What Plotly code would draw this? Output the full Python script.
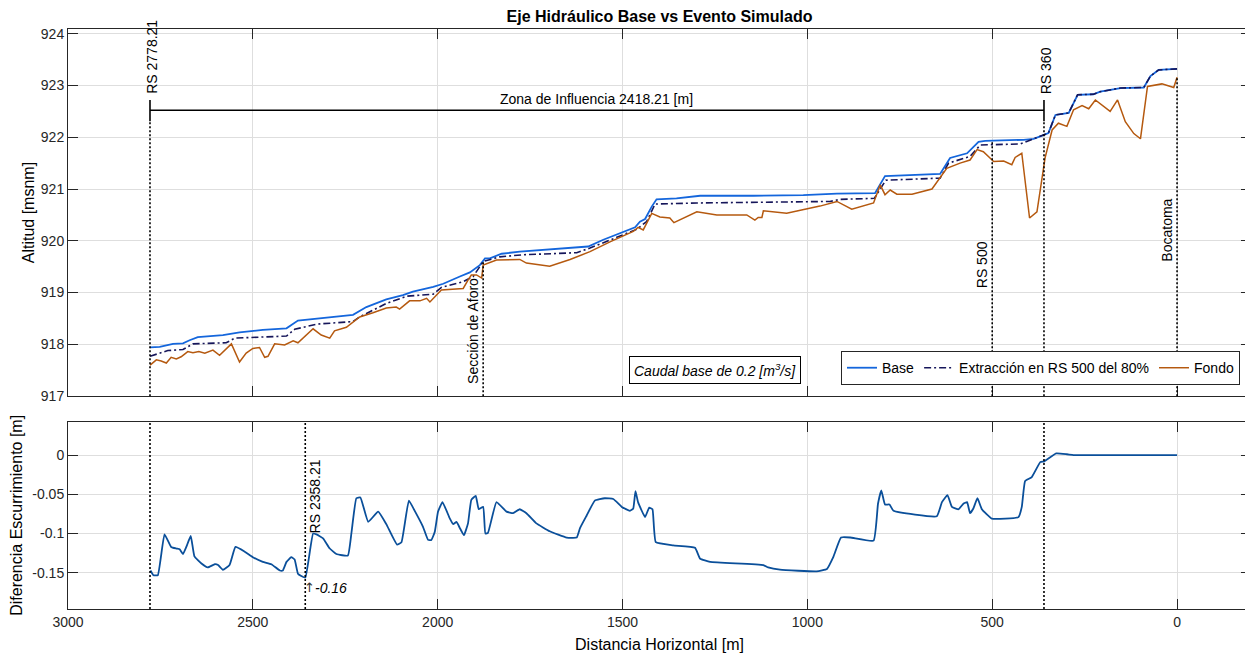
import plotly.graph_objects as go

# ---------------- data ----------------
dist_base = [2778, 2752, 2716, 2689, 2671, 2649, 2581, 2536, 2473, 2409,
             2378, 2301, 2229, 2193, 2139, 2094, 2067, 2012, 1985, 1940,
             1913, 1886, 1872, 1859, 1827, 1778, 1697, 1593, 1552, 1466,
             1453, 1439, 1421, 1408, 1354, 1290, 1146, 1011, 920, 817,
             790, 641, 614, 568, 537, 519, 415, 388, 365, 348,
             329, 293, 269, 226, 208, 172, 153, 90, 72, 50, 0]
wse_base = [917.94, 917.95, 918.01, 918.02, 918.08, 918.14, 918.18, 918.23, 918.28, 918.31,
            918.46, 918.52, 918.57, 918.72, 918.87, 918.95, 919.02, 919.11, 919.17, 919.31,
            919.39, 919.53, 919.66, 919.66, 919.75, 919.79, 919.84, 919.89, 920.02, 920.26,
            920.37, 920.42, 920.66, 920.80, 920.82, 920.87, 920.87, 920.88, 920.91, 920.92,
            921.25, 921.29, 921.60, 921.69, 921.91, 921.93, 921.95, 921.97, 922.03, 922.08,
            922.43, 922.47, 922.82, 922.83, 922.88, 922.92, 922.95, 922.96, 923.18, 923.30, 923.32]

dist_ext = [2778, 2752, 2730, 2689, 2662, 2572, 2549, 2409, 2387, 2328,
            2229, 2211, 2139, 2084, 2012, 1990, 1931, 1904, 1877, 1832,
            1769, 1624, 1588, 1462, 1435, 1412, 1299, 939, 911, 819,
            788, 641, 618, 560, 532, 424, 402, 365, 348, 329,
            293, 269, 226, 208, 172, 153, 90, 72, 50, 0]
wse_ext = [917.77, 917.83, 917.88, 917.90, 918.01, 918.03, 918.12, 918.16, 918.29, 918.39,
           918.44, 918.53, 918.79, 918.93, 918.97, 919.10, 919.21, 919.31, 919.60, 919.69,
           919.73, 919.77, 919.86, 920.22, 920.37, 920.71, 920.73, 920.76, 920.80, 920.82,
           921.17, 921.21, 921.50, 921.63, 921.85, 921.87, 921.93, 922.03, 922.08, 922.43,
           922.47, 922.82, 922.83, 922.88, 922.92, 922.95, 922.96, 923.18, 923.30, 923.32]

dist_fondo = [2778, 2761, 2748, 2734, 2721, 2707, 2694, 2676, 2662, 2646,
              2630, 2608, 2590, 2558, 2536, 2518, 2500, 2482, 2468, 2459,
              2441, 2414, 2391, 2378, 2337, 2315, 2292, 2279, 2247, 2211,
              2175, 2139, 2112, 2103, 2076, 2048, 2030, 2021, 1990, 1976,
              1931, 1918, 1909, 1895, 1881, 1877, 1841, 1778, 1760, 1697,
              1642, 1588, 1534, 1471, 1458, 1444, 1421, 1399, 1372, 1361,
              1299, 1245, 1164, 1142, 1133, 1123, 1119, 1056, 966, 920,
              880, 821, 803, 790, 776, 758, 717, 663, 623, 587,
              560, 541, 524, 496, 469, 447, 438, 420, 399, 379,
              357, 338, 321, 298, 280, 257, 239, 221, 181, 161,
              140, 117, 99, 80, 63, 41, 9, 0]
cota_fondo = [917.60, 917.70, 917.68, 917.64, 917.75, 917.72, 917.76, 917.86, 917.84, 917.86,
              917.83, 917.89, 917.79, 918.01, 917.66, 917.83, 917.92, 917.94, 917.75, 917.77,
              918.01, 917.99, 918.07, 918.03, 918.30, 918.18, 918.12, 918.26, 918.33, 918.53,
              918.61, 918.70, 918.72, 918.68, 918.84, 918.84, 918.89, 918.82, 919.05, 919.06,
              919.08, 919.24, 919.34, 919.34, 919.28, 919.53, 919.63, 919.64, 919.57, 919.51,
              919.64, 919.79, 919.98, 920.18, 920.26, 920.21, 920.53, 920.46, 920.44, 920.35,
              920.56, 920.50, 920.50, 920.40, 920.45, 920.45, 920.58, 920.53, 920.67, 920.76,
              920.61, 920.73, 921.08, 920.89, 920.98, 920.90, 920.90, 921.00, 921.40, 921.50,
              921.56, 921.76, 921.72, 921.53, 921.54, 921.47, 921.61, 921.69, 920.44, 920.56,
              921.60, 922.14, 922.27, 922.21, 922.53, 922.61, 922.55, 922.72, 922.50, 922.72,
              922.30, 922.07, 921.97, 922.98, 923.00, 923.03, 922.96, 923.16]

dist_diff = [2777, 2769, 2757, 2739, 2721, 2707, 2698, 2689, 2680, 2668,
             2658, 2639, 2622, 2603, 2594, 2581, 2563, 2547, 2522, 2500,
             2473, 2450, 2427, 2419, 2409, 2396, 2387, 2378, 2369, 2358,
             2337, 2328, 2310, 2292, 2274, 2243, 2233, 2220, 2209, 2188,
             2161, 2139, 2110, 2098, 2078, 2061, 2040, 2026, 2017, 2008,
             1999, 1987, 1967, 1958, 1949, 1940, 1929, 1918, 1909, 1897,
             1889, 1877, 1871, 1864, 1841, 1814, 1796, 1778, 1760, 1733,
             1697, 1651, 1624, 1615, 1597, 1575, 1548, 1525, 1502, 1480,
             1471, 1465, 1458, 1439, 1428, 1419, 1410, 1363, 1304, 1290,
             1263, 1119, 1106, 1074, 975, 947, 930, 909, 884, 821,
             809, 800, 790, 778, 767, 650, 636, 621, 609, 591,
             578, 568, 560, 551, 540, 528, 501, 429, 420, 411,
             393, 370, 359, 327, 298, 280, 172, 99, 0]
diff_esc = [-0.147, -0.153, -0.153, -0.101, -0.117, -0.119, -0.120, -0.126, -0.117, -0.103,
            -0.129, -0.138, -0.143, -0.139, -0.140, -0.146, -0.140, -0.117, -0.123, -0.130,
            -0.136, -0.139, -0.147, -0.147, -0.136, -0.130, -0.133, -0.151, -0.154, -0.156,
            -0.100, -0.101, -0.106, -0.119, -0.126, -0.128, -0.098, -0.055, -0.054, -0.085,
            -0.072, -0.088, -0.114, -0.111, -0.058, -0.072, -0.091, -0.108, -0.108, -0.098,
            -0.072, -0.060, -0.081, -0.088, -0.085, -0.093, -0.102, -0.087, -0.057, -0.052,
            -0.069, -0.066, -0.100, -0.099, -0.060, -0.072, -0.074, -0.069, -0.074, -0.087,
            -0.097, -0.105, -0.105, -0.093, -0.077, -0.058, -0.055, -0.056, -0.066, -0.071,
            -0.068, -0.046, -0.060, -0.079, -0.067, -0.069, -0.111, -0.115, -0.118, -0.132,
            -0.136, -0.140, -0.143, -0.146, -0.148, -0.145, -0.130, -0.105, -0.105, -0.109,
            -0.062, -0.045, -0.063, -0.063, -0.071, -0.078, -0.060, -0.051, -0.066, -0.069,
            -0.062, -0.060, -0.074, -0.068, -0.055, -0.069, -0.081, -0.079, -0.066, -0.033,
            -0.028, -0.009, -0.008, 0.002, 0.001, 0.000, 0.000, 0.000, 0.000]

# stations of interest
rs_inicio = 2778.21
rs_fin = 360
rs_aforo = 1877
rs_500 = 500
rs_bocatoma = 0
rs_min = 2358.21
diff_min = -0.16
zona_cota = 922.52

x_ticks = [0, 500, 1000, 1500, 2000, 2500, 3000]
y_ticks_top = [917, 918, 919, 920, 921, 922, 923, 924]
y_ticks_bot = [0, -0.05, -0.1, -0.15]
y_ticks_bot_text = ["0", "-0.05", "-0.1", "-0.15"]

# ---------------- styling ----------------
FONT = "Liberation Sans, Arial, Helvetica, sans-serif"
AX = "#262626"
GRID = "#dedede"
C_BASE = "#1466dc"
C_EXT = "#16165a"
C_FONDO = "#b5590f"
C_DIFF = "#0a4f9a"

# page body has an 8px margin; the figure is sized so it ends at the window edge
W, H = 1245, 650

fig = go.Figure()
fig.add_trace(go.Scatter(x=dist_base, y=wse_base, mode="lines", name="Base",
                         line=dict(color=C_BASE, width=1.8), xaxis="x", yaxis="y"))
fig.add_trace(go.Scatter(x=dist_ext, y=wse_ext, mode="lines", name="Extracción en RS 500 del 80%",
                         line=dict(color=C_EXT, width=1.6, dash="7px,3px,2px,3px"), xaxis="x", yaxis="y"))
fig.add_trace(go.Scatter(x=dist_fondo, y=cota_fondo, mode="lines", name="Fondo",
                         line=dict(color=C_FONDO, width=1.5), xaxis="x", yaxis="y"))
fig.add_trace(go.Scatter(x=dist_diff, y=diff_esc, mode="lines", showlegend=False,
                         line=dict(color=C_DIFF, width=1.8, shape="spline", smoothing=0.35),
                         xaxis="x2", yaxis="y2"))

ytop_rng = [917, 924.09]
ybot_rng = [-0.196, 0.0425]

shapes = []
dot = dict(color="black", width=1.6, dash="2px,2px")
for xv, ytop in [(rs_inicio, 922.31), (rs_fin, 922.31), (rs_aforo, 919.6),
                 (rs_500, 921.91), (rs_bocatoma, 923.15)]:
    shapes.append(dict(type="line", xref="x", yref="y", x0=xv, x1=xv, y0=ytop_rng[0], y1=ytop,
                       line=dot))
solid = dict(color="black", width=1.6)
shapes.append(dict(type="line", xref="x", yref="y", x0=rs_inicio, x1=rs_fin,
                   y0=zona_cota, y1=zona_cota, line=solid))
for xv in [rs_inicio, rs_fin]:
    shapes.append(dict(type="line", xref="x", yref="y", x0=xv, x1=xv,
                       y0=zona_cota - 0.21, y1=zona_cota + 0.2, line=solid))
for xv in [rs_inicio, rs_min, rs_fin]:
    shapes.append(dict(type="line", xref="x2", yref="y2", x0=xv, x1=xv,
                       y0=ybot_rng[0], y1=ybot_rng[1], line=dot))

tf = dict(family=FONT, size=14, color="black")
ann = [
    dict(x=rs_inicio, y=922.8, xref="x", yref="y", text=f"RS {rs_inicio:.2f}", textangle=-90,
         xanchor="center", yanchor="bottom", xshift=2, showarrow=False, font=tf),
    dict(x=rs_fin, y=922.8, xref="x", yref="y", text=f"RS {rs_fin}", textangle=-90,
         xanchor="center", yanchor="bottom", xshift=2, showarrow=False, font=tf),
    dict(x=(rs_inicio + rs_fin) / 2, y=zona_cota + 0.02, xref="x", yref="y",
         text=f"Zona de Influencia {rs_inicio - rs_fin:.2f} [m]",
         xanchor="center", yanchor="bottom", showarrow=False, font=tf),
    dict(x=rs_aforo, y=917.2, xref="x", yref="y", text="Sección de Aforo", textangle=-90,
         xanchor="right", yanchor="bottom", showarrow=False, font=tf),
    dict(x=rs_500, y=919.04, xref="x", yref="y", text=f"RS {rs_500}", textangle=-90,
         xanchor="right", yanchor="bottom", showarrow=False, font=tf),
    dict(x=rs_bocatoma, y=919.55, xref="x", yref="y", text="Bocatoma", textangle=-90,
         xanchor="right", yanchor="bottom", showarrow=False, font=tf),
    dict(x=rs_min, y=-0.102, xref="x2", yref="y2", text=f"RS {rs_min:.2f}", textangle=-90,
         xanchor="left", yanchor="bottom", showarrow=False, font=tf),
    dict(x=2368, y=-0.169, xref="x2", yref="y2", text="↑",
         xanchor="left", yanchor="middle", showarrow=False,
         font=dict(family="DejaVu Sans", size=13, color="#333333")),
    dict(x=2337, y=-0.169, xref="x2", yref="y2", text=f"<i>{diff_min:.2f}</i>",
         xanchor="left", yanchor="middle", showarrow=False, font=tf),
    dict(x=1250, y=917.5, xref="x", yref="y",
         text="<i>Caudal base de 0.2 [m<sup>3</sup>/s]</i>",
         xanchor="center", yanchor="middle", showarrow=False, font=tf,
         bordercolor="black", borderwidth=1, borderpad=4, bgcolor="white"),
]

axis_common = dict(showline=True, linecolor=AX, linewidth=1, mirror="ticks",
                   ticks="inside", ticklen=10, tickcolor=AX, tickwidth=1,
                   showgrid=True, gridcolor=GRID, gridwidth=1, zeroline=False,
                   automargin=False,
                   tickfont=dict(family=FONT, size=14, color="#262626"))
title_font = dict(family=FONT, size=16, color="black")

fig.update_layout(
    width=W, height=H,
    margin=dict(l=60, r=2, t=21, b=49, autoexpand=False),
    paper_bgcolor="white", plot_bgcolor="white",
    font=dict(family=FONT, color="black"),
    title=dict(text="<b>Eje Hidráulico Base vs Evento Simulado</b>", x=651.5 / W, xanchor="center",
               y=1 - 8.5 / H, yanchor="middle", font=dict(family=FONT, size=16, color="black")),
    xaxis=dict(domain=[0, 1], anchor="y", range=[3000, -200], tickvals=x_ticks,
               showticklabels=False, **axis_common),
    yaxis=dict(domain=[0.367, 1], anchor="x", range=ytop_rng, tickvals=y_ticks_top,
               title=dict(text="Altitud [msnm]", font=title_font, standoff=2),
               **axis_common),
    xaxis2=dict(domain=[0, 1], anchor="y2", range=[3000, -200], tickvals=x_ticks,
                title=dict(text="Distancia Horizontal [m]", font=title_font, standoff=10),
                **axis_common),
    yaxis2=dict(domain=[0, 0.323], anchor="x2", range=ybot_rng, tickvals=y_ticks_bot,
                ticktext=y_ticks_bot_text,
                title=dict(text="Diferencia Escurrimiento [m]", font=title_font, standoff=6),
                **axis_common),
    legend=dict(orientation="h", x=0.9907, xanchor="right", y=0.386, yanchor="bottom",
                bgcolor="white", bordercolor=AX, borderwidth=1,
                font=dict(family=FONT, size=14, color="black"), tracegroupgap=0,
                itemwidth=30),
    shapes=shapes,
    annotations=ann,
    showlegend=True,
)

fig.write_html("out.html")
